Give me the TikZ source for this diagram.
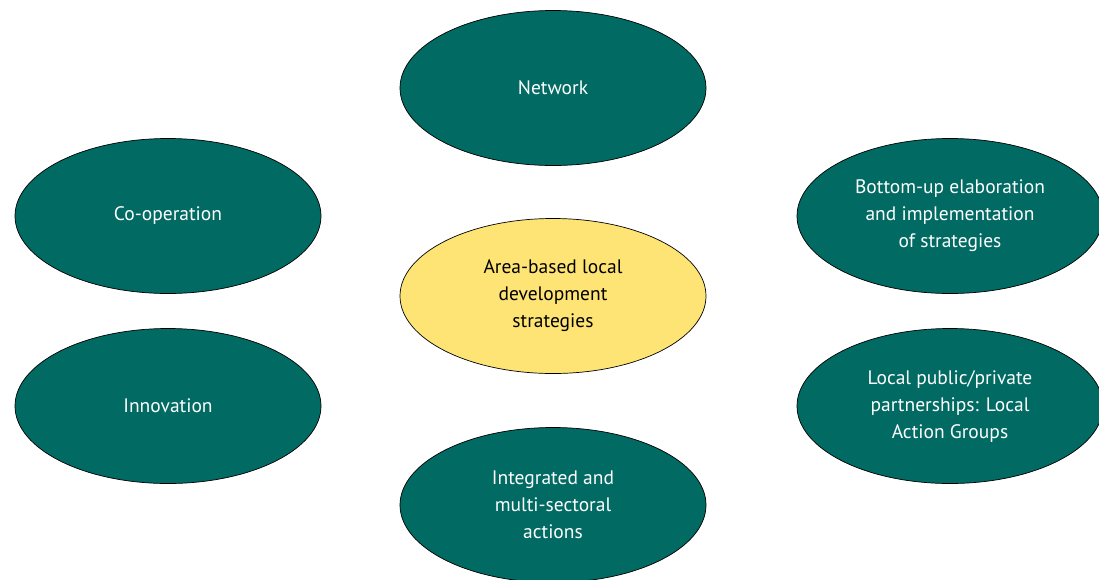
\documentclass[tikz,border=0pt]{standalone}
\usepackage{fontspec}
\setmainfont{PT Sans}
\usetikzlibrary{shapes.geometric}
\definecolor{leadergreen}{RGB}{0,106,99}
\definecolor{leaderyellow}{RGB}{254,228,117}
\begin{document}
\begin{tikzpicture}[x=1pt, y=-1pt,
		blob/.style={ellipse, draw=black, line width=0.7pt, fill=leadergreen, text=white,
			minimum width=306pt, minimum height=155pt, inner sep=0pt, align=center,
			font=\fontsize{19.5}{27}\selectfont},
		core/.style={blob, fill=leaderyellow, text=black}]
			\useasboundingbox (0,0) rectangle (1099,579);
			\node[core] (lds) at (553,296) {Area-based local\\development\\strategies};
			\node[blob] (network) at (553,88) {Network};
			\node[blob] (coop) at (168,216) {Co-operation};
			\node[blob] (innov) at (168,406) {Innovation};
			\node[blob] (bottomup) at (950,216) {Bottom-up elaboration\\and implementation\\of strategies};
			\node[blob] (lag) at (950,406) {Local public/private\\partnerships: Local\\Action Groups};
			\node[blob] (integr) at (553,505) {Integrated and\\multi-sectoral\\actions};
		\end{tikzpicture}
\end{document}
